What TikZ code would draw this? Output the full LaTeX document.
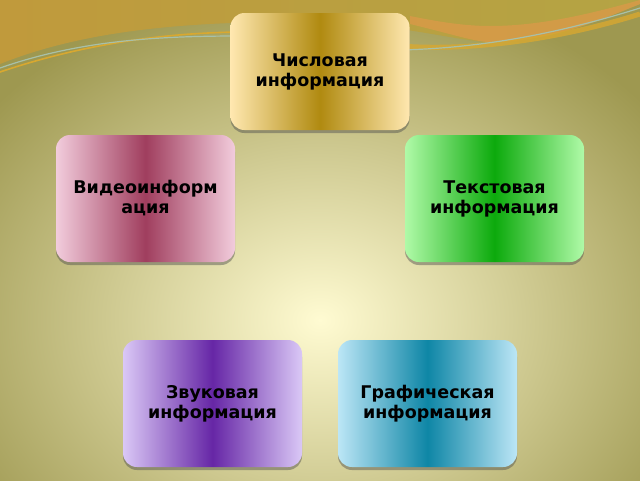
\documentclass[tikz,border=0pt]{standalone}
\usepackage{fontspec}
\setmainfont{DejaVu Sans}
\usetikzlibrary{shadows}
\definecolor{olivebg}{HTML}{9E9850}
\definecolor{glowbg}{HTML}{FFFBD2}
\definecolor{goldtop}{HTML}{C09A3C}
\definecolor{orangeband}{HTML}{D89A48}
\definecolor{olivetop}{HTML}{B4A444}
\definecolor{swline}{HTML}{D8A830}
\definecolor{tealline}{HTML}{A8C0A8}
\definecolor{numlight}{HTML}{FFE8B0}
\definecolor{numdark}{HTML}{B08A10}
\definecolor{vidlight}{HTML}{F2CCDC}
\definecolor{viddark}{HTML}{A03E5E}
\definecolor{txtlight}{HTML}{B0FAA8}
\definecolor{txtdark}{HTML}{0CAA0C}
\definecolor{sndlight}{HTML}{DAC8F6}
\definecolor{snddark}{HTML}{6626A6}
\definecolor{gralight}{HTML}{BCE6F6}
\definecolor{gradark}{HTML}{0E86A6}
\begin{document}
\begin{tikzpicture}[
			x=1pt, y=-1pt,
			infobox/.style={rounded corners=14pt, align=center,
				minimum width=179pt, minimum height=127pt, text width=172pt,
				font=\bfseries\fontsize{17.5}{20}\selectfont,
				drop shadow={shadow xshift=0pt, shadow yshift=-3pt, opacity=0.45, fill=black!70}},
			numbox/.style={infobox, minimum height=117pt, left color=numlight, right color=numlight, middle color=numdark},
			vidbox/.style={infobox, left color=vidlight, right color=vidlight, middle color=viddark},
			txtbox/.style={infobox, left color=txtlight, right color=txtlight, middle color=txtdark},
			sndbox/.style={infobox, left color=sndlight, right color=sndlight, middle color=snddark},
			grabox/.style={infobox, left color=gralight, right color=gralight, middle color=gradark}
			]
			\useasboundingbox (0,0) rectangle (640,480);
			% background
			\fill[olivebg] (0,0) rectangle (640,480);
			\begin{scope}
				\clip (0,0) rectangle (640,480);
				\shade[inner color=glowbg, outer color=olivebg] (320,320) ellipse (420 and 340);
				% top swooshes
				\shade[left color=goldtop, right color=olivetop] (0,0) -- (0,64) .. controls (90,28) and (200,20) .. (340,22)
					.. controls (430,30) and (470,44) .. (500,42) .. controls (560,38) and (600,20) .. (640,4) -- (640,0) -- cycle;
				\fill[orangeband, opacity=0.85] (410,24) .. controls (460,36) and (480,44) .. (500,42) .. controls (560,38) and (600,20) .. (640,4)
					-- (640,0) .. controls (590,14) and (540,26) .. (490,26) .. controls (460,26) and (430,20) .. (410,16) -- cycle;
				\draw[swline, line width=1.6pt] (0,72) .. controls (80,45) and (160,33) .. (240,32);
				\draw[tealline, line width=1.2pt] (0,68) .. controls (80,40) and (160,36) .. (240,36);
				\draw[swline, line width=5pt, opacity=0.8] (400,46) .. controls (480,52) and (570,36) .. (640,14);
				\draw[tealline, line width=1.2pt] (400,50) .. controls (490,48) and (570,30) .. (640,8);
			\end{scope}
			% boxes
			\node[numbox] (num) at (320,71.5) {Числовая\\информация};
			\node[vidbox] (vid) at (145.5,198.5) {Видеоинформ\\ация};
			\node[txtbox] (txt) at (494.5,198.5) {Текстовая\\информация};
			\node[sndbox] (snd) at (212.5,403.5) {Звуковая\\информация};
			\node[grabox] (gra) at (427.5,403.5) {Графическая\\информация};
		\end{tikzpicture}
\end{document}
